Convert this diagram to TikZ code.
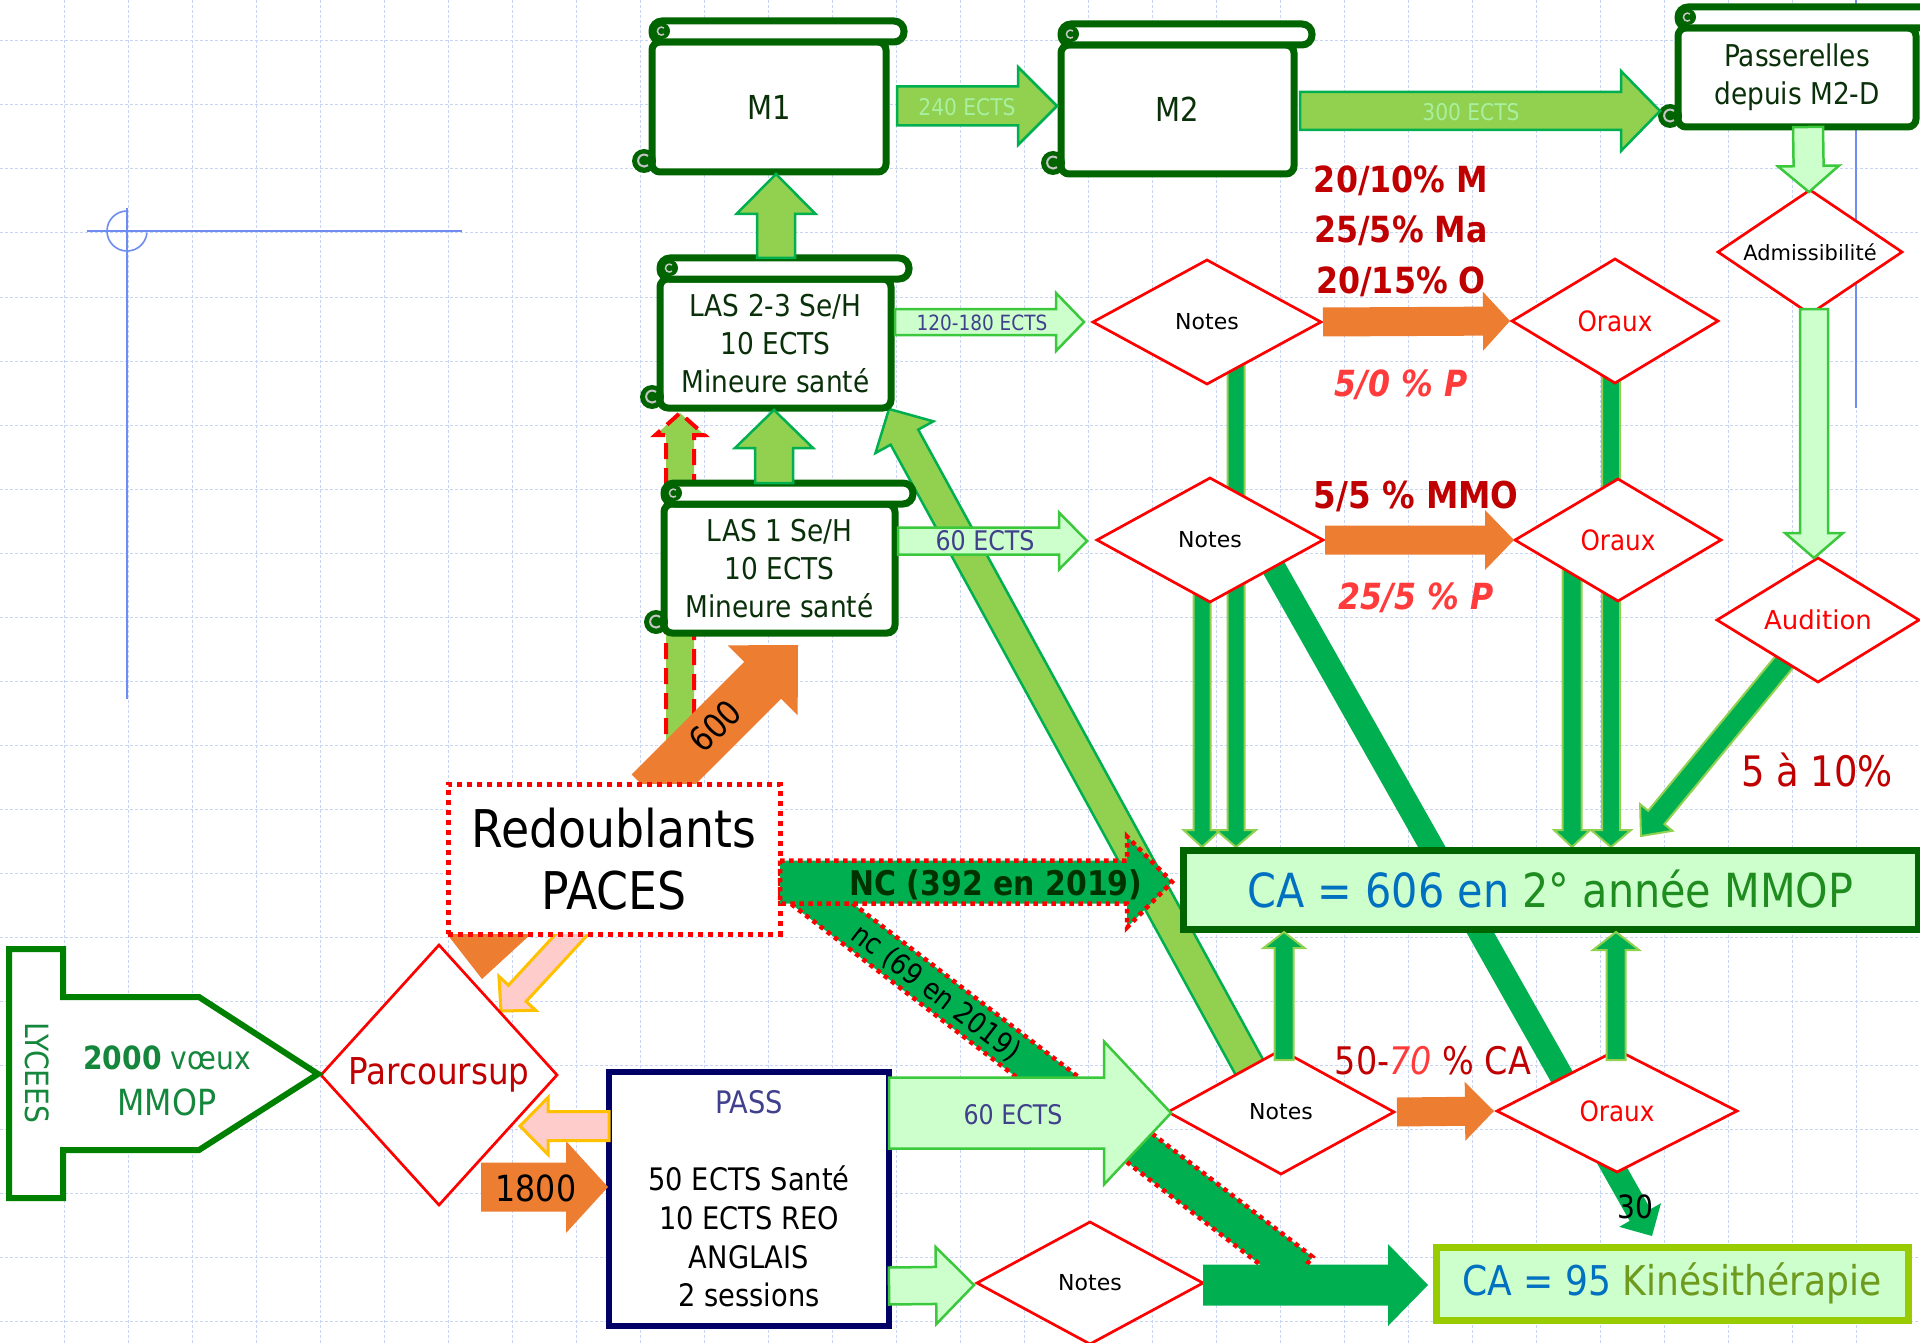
\documentclass[tikz,border=0pt]{standalone}
\usepackage{fontspec}
\setmainfont{DejaVu Sans}[FakeStretch=0.88,BoldFont={DejaVu Sans Bold},ItalicFont={DejaVu Sans Oblique},BoldItalicFont={DejaVu Sans Bold Oblique}]
\newfontfamily\wide{DejaVu Sans}
\usetikzlibrary{calc,shapes.geometric}
\pgfdeclarelayer{gridlayer}
\pgfdeclarelayer{bg}
\pgfdeclarelayer{fg}
\pgfsetlayers{gridlayer,bg,main,fg}
\definecolor{lgreen}{HTML}{92D050}
\definecolor{mgreen}{HTML}{00B050}
\definecolor{pgreen}{HTML}{CCFFCC}
\definecolor{bgreen}{HTML}{3CC83C}
\definecolor{dgreen}{HTML}{006400}
\definecolor{orng}{HTML}{ED7D31}
\definecolor{dred}{HTML}{C00000}
\definecolor{lred}{HTML}{FF3B3B}
\definecolor{navy}{HTML}{000066}
\definecolor{ectsc}{HTML}{40408C}
\definecolor{cablue}{HTML}{0070C0}
\definecolor{cagreen}{HTML}{1E8C1E}
\definecolor{kgreen}{HTML}{6E9A1E}
\definecolor{kborder}{HTML}{99CC00}
\definecolor{pinkf}{HTML}{FFCCCC}
\definecolor{gold}{HTML}{FFC000}
\definecolor{gridc}{HTML}{C8D4F4}
\definecolor{guide}{HTML}{6F8CF0}
\definecolor{lycee}{HTML}{008000}
\definecolor{lytext}{HTML}{14873C}
\definecolor{ncdark}{HTML}{003300}
\definecolor{ectslight}{HTML}{A8F0A0}
\definecolor{scrtext}{HTML}{0A300A}
\newcommand\fz[2]{\fontsize{#1}{#2}\selectfont}
% block arrow: style, from, to, shaft half width, head half width, head length
\newcommand\barrow[6]{%
  \path[#1] let \p1=(#2), \p2=(#3),
    \n1={atan2(\y2-\y1,\x2-\x1)},
    \n2={veclen(\x2-\x1,\y2-\y1)-#6}
  in ($(\p1)+(\n1+90:#4pt)$) -- ($(\p1)+(\n1:\n2)+(\n1+90:#4pt)$)
   -- ($(\p1)+(\n1:\n2)+(\n1+90:#5pt)$) -- (\p2)
   -- ($(\p1)+(\n1:\n2)+(\n1-90:#5pt)$) -- ($(\p1)+(\n1:\n2)+(\n1-90:#4pt)$)
   -- ($(\p1)+(\n1-90:#4pt)$) -- cycle;}
% plain band: style, from, to, half width
\newcommand\band[4]{%
  \path[#1] let \p1=(#2), \p2=(#3),
    \n1={atan2(\y2-\y1,\x2-\x1)}
  in ($(\p1)+(\n1+90:#4pt)$) -- ($(\p2)+(\n1+90:#4pt)$)
   -- ($(\p2)+(\n1-90:#4pt)$) -- ($(\p1)+(\n1-90:#4pt)$) -- cycle;}
% scroll: name, x1, y1, x2, y2, text
\newcommand\scrl[6]{%
  \node[scrollbody, minimum width={#4-#2}, minimum height={#5-#3}] (#1) at ({(#2+#4)/2},{(#3+#5)/2}) {#6};
  \draw[draw=dgreen, line width=7pt, fill=white, rounded corners=10pt] (#2,#3-21) rectangle (#4+18,#3);
  \fill[dgreen] (#2+10,#3-11) circle[radius=8pt];
  \draw[gray!45, line width=1.5pt] (#2+12,#3-14) arc[start angle=50,end angle=310,radius=4pt];
  \fill[dgreen] (#2-8,#5-11) circle[radius=12pt];
  \draw[gray!45, line width=2pt] (#2-4,#5-16) arc[start angle=50,end angle=310,radius=6pt];
}
\tikzset{
  every node/.style={outer sep=0pt},
  gridl/.style={draw=gridc, line width=1pt, dash pattern=on 3pt off 2pt},
  guideline/.style={draw=guide, line width=1.6pt},
  scrollbody/.style={draw=dgreen, line width=7pt, fill=white, rounded corners=8pt, inner sep=0pt, align=center, text=scrtext, font=\fz{30}{38}},
  dia/.style={diamond, draw=red, line width=2.7pt, fill=white, inner sep=0pt},
  lga/.style={fill=lgreen, draw=mgreen, line width=2.5pt, line join=miter},
  pga/.style={fill=pgreen, draw=bgreen, line width=2.5pt},
  mga/.style={fill=mgreen, draw=lgreen, line width=2pt},
  ora/.style={fill=orng},
  dotgreen/.style={fill=mgreen, draw=red, line width=4.5pt, dash pattern=on 4.5pt off 4.5pt},
  reddash/.style={fill=lgreen, draw=red, line width=4pt, dash pattern=on 16pt off 9pt},
  pinka/.style={fill=pinkf, draw=gold, line width=3pt},
  lbl/.style={inner sep=0pt, anchor=center},
}
\begin{document}
\begin{tikzpicture}[x=1pt,y=-1pt]
\useasboundingbox (0,0) rectangle (1920,1343);
\begin{pgfonlayer}{gridlayer}
\fill[white] (0,0) rectangle (1920,1343);
\foreach \gx in {64,128,...,1856} \draw[gridl] (\gx,0) -- (\gx,1343);
\foreach \gy in {41,105,...,1321} \draw[gridl] (0,\gy) -- (1920,\gy);
\draw[guideline] (87,231) -- (462,231);
\draw[guideline] (127,208) -- (127,699);
\draw[guideline] (127,211) arc[start angle=90,end angle=355,radius=20pt];
\draw[guideline] (1856,0) -- (1856,408);
\end{pgfonlayer}

% ---------- nodes ----------
\scrl{m1}{652}{42}{886}{172}{\fz{33}{38}M1}
\scrl{m2}{1061}{45}{1294}{174}{\fz{33}{38}M2}
\scrl{las23}{660}{279}{891}{408}{LAS 2-3 Se/H\\10 ECTS\\Mineure santé}
\scrl{las1}{664}{504}{895}{633}{LAS 1 Se/H\\10 ECTS\\Mineure santé}
\scrl{pas}{1678}{28}{1916}{127}{\fz{30}{39}Passerelles\\depuis M2-D}

\node[dia, minimum width=228pt, minimum height=124pt, shape aspect=1.8] (notes1) at (1207,322) {\wide\fz{22}{26}Notes};
\node[dia, minimum width=206pt, minimum height=124pt, shape aspect=1.7, text=red] (oraux1) at (1615,321) {\fz{28}{32}Oraux};
\node[dia, minimum width=226pt, minimum height=124pt, shape aspect=1.8] (notes2) at (1210,540) {\wide\fz{22}{26}Notes};
\node[dia, minimum width=206pt, minimum height=122pt, shape aspect=1.7, text=red] (oraux2) at (1618,540) {\fz{28}{32}Oraux};
\node[dia, minimum width=226pt, minimum height=124pt, shape aspect=1.8] (notes3) at (1281,1112) {\wide\fz{22}{26}Notes};
\node[dia, minimum width=240pt, minimum height=122pt, shape aspect=1.8, text=red] (oraux3) at (1617,1111) {\fz{28}{32}Oraux};
\node[dia, minimum width=226pt, minimum height=122pt, shape aspect=1.8] (notes4) at (1090,1283) {\wide\fz{22}{26}Notes};
\node[dia, minimum width=184pt, minimum height=124pt, shape aspect=1.5] (admiss) at (1810,252) {\wide\fz{21}{24}Admissibilité};
\node[dia, minimum width=202pt, minimum height=124pt, shape aspect=1.6, text=red] (audition) at (1818,620) {\wide\fz{26}{30}Audition};
\node[dia, minimum width=236pt, minimum height=260pt, shape aspect=0.9, text=dred] (pcs) at (439,1075) {\fz{37}{40}Parcoursup};

\node[draw=red, line width=5pt, dash pattern=on 5pt off 5pt, fill=white, minimum width=332pt, minimum height=150pt, inner sep=0pt, align=center, font=\fz{52}{62}] (redoub) at (614,859) {Redoublants\\PACES};
\node[draw=navy, line width=6pt, fill=white, minimum width=280pt, minimum height=254pt, inner sep=0pt, align=center, font=\fz{31}{38.6}] (pass) at (749,1199) {\textcolor{ectsc}{PASS}\\[38.6pt]50 ECTS Santé\\10 ECTS REO\\ANGLAIS\\2 sessions};
\node[draw=dgreen, line width=7pt, fill=pgreen, minimum width=735pt, minimum height=79pt, inner sep=0pt, font=\fz{47}{50}] (ca606) at (1550.5,889.5) {\textcolor{cablue}{CA = 606 en }\textcolor{cagreen}{2° année MMOP}};
\node[draw=kborder, line width=7pt, fill=pgreen, minimum width=472pt, minimum height=73pt, inner sep=0pt, font=\fz{41}{46}] (ca95) at (1672,1283.5) {\textcolor{cablue}{CA = 95 }\textcolor{kgreen}{Kinésithérapie}};

\draw[draw=lycee, line width=6pt, fill=white, line join=miter] (9,949) -- (63,949) -- (63,997) -- (199,997) -- (318,1074) coordinate (lyctip) -- (199,1150) -- (63,1150) -- (63,1198) -- (9,1198) -- cycle;
\node[lbl, rotate=-90, text=lytext, font=\fz{32}{36}] (lyct) at (37,1073) {LYCEES};
\node[lbl, text=lytext, font=\fz{32}{36}] (voeux) at (167,1058) {\textbf{2000} vœux};
\node[lbl, text=lytext, font=\fz{36}{40}] (mmop) at (167,1102) {MMOP};

% ---------- connectors behind the nodes ----------
\begin{pgfonlayer}{bg}
\barrow{lga}{$(notes3.center)+(-11.5,-8)$}{$(las23.south east)+(-2,1)$}{15.7}{33}{32}
\barrow{fill=mgreen}{$(notes2.center)+(48,0)$}{$(ca95.north west)+(216,-11)$}{12}{24}{24}
\barrow{mga}{$(notes2.south)+(-8,-12)$}{$(ca606.north west)+(19,-3)$}{8.5}{18.5}{17}
\barrow{mga}{$(notes1.south)+(29,-24)$}{$(ca606.north west)+(53,-3)$}{8.5}{20}{17}
\barrow{mga}{$(oraux2.south)+(-46,-36)$}{$(ca606.north west)+(389,-3)$}{9.5}{18}{17}
\barrow{mga}{$(oraux1.south)+(-4,-13)$}{$(ca606.north west)+(428,-3)$}{9}{20}{17}
\barrow{mga}{$(audition.center)+(-28,35)$}{$(ca606.north east)+(-277,-14)$}{10.5}{21}{24}
\barrow{reddash}{$(redoub.north)+(66,0)$}{$(las23.south)+(-95.5,5)$}{14}{24.5}{22}
\barrow{ora}{$(redoub.north)+(36,9)$}{$(las1.south east)+(-97,12)$}{26}{49.5}{50}
\band{dotgreen}{$(redoub.east)+(11,21)$}{$(notes4.east)+(98,-11)$}{19}
\fill[orng] ($(redoub.south west)+(-1,0)$) -- ($(redoub.south west)+(83,0)$) -- ($(redoub.south west)+(34,45)$) -- cycle;
\barrow{pinka}{$(redoub.south)+(-29,-14)$}{$(pcs.north)+(62,66)$}{12}{25}{24}
\end{pgfonlayer}

% ---------- connectors in front ----------
\begin{pgfonlayer}{fg}
\barrow{lga}{$(m1.east)+(11,-1)$}{$(m2.west)+(-4,-3.5)$}{19.5}{39}{39}
\barrow{lga}{$(m2.east)+(6,1.5)$}{$(pas.west)+(-18,33.5)$}{19}{40}{39}
\barrow{lga}{$(las23.north)+(0.5,-21)$}{$(m1.south)+(7,2)$}{19}{39.5}{40}
\barrow{lga}{$(las1.north)+(-5.5,-21)$}{$(las23.south)+(-1.5,2)$}{19}{39}{38}
\barrow{pga}{$(las23.east)+(4,-21.5)$}{$(notes1.west)+(-9,0)$}{13}{29}{28}
\barrow{pga}{$(las1.east)+(3,-27.5)$}{$(notes2.west)+(-10,1)$}{13.5}{28.5}{28}
\barrow{ora}{$(notes1.east)+(2,0)$}{$(oraux1.west)+(-2,0)$}{14.5}{29.5}{27}
\barrow{ora}{$(notes2.east)+(2,0)$}{$(oraux2.west)+(-1,0)$}{14.5}{30}{29}
\barrow{ora}{$(notes3.east)+(3,0)$}{$(oraux3.west)+(-3,0)$}{14.5}{29.5}{29}
\barrow{dotgreen}{$(redoub.east)+(0,23)$}{$(ca606.west)+(-11,-7.5)$}{21.5}{45.5}{45}
\barrow{pga}{$(pass.east)+(0,-86)$}{$(notes3.west)+(3,1)$}{35.5}{71.5}{67}
\barrow{pga}{$(pass.east)+(0,87)$}{$(notes4.west)+(-3,2)$}{18.5}{38.5}{38}
\barrow{fill=mgreen}{$(notes4.east)+(0,2)$}{$(ca95.west)+(-8,1.5)$}{20.5}{41}{40}
\barrow{mga}{$(notes3.north)+(3,10)$}{$(ca606.south west)+(101,3)$}{9.5}{20.5}{16}
\barrow{mga}{$(oraux3.north)+(-1,10)$}{$(ca606.south west)+(433,3)$}{9.5}{23}{18}
\barrow{ora}{$(pcs.east)+(-76,112)$}{$(pass.west)+(-1,-12)$}{24.5}{46}{42}
\barrow{pinka}{$(pass.west)+(0,-73)$}{$(pcs.east)+(-37,51)$}{14.5}{28.5}{28}
\barrow{pga}{$(pas.south)+(11,0)$}{$(admiss.north)+(-1,2)$}{15}{30.5}{26}
\barrow{pga}{$(admiss.south)+(4,-5)$}{$(audition.north)+(-4,0)$}{14}{29}{25}

% ---------- labels ----------
\node[lbl, text=ectslight, font=\fz{23}{26}] (e240) at (967,107) {240 ECTS};
\node[lbl, text=ectslight, font=\fz{23}{26}] (e300) at (1471,112) {300 ECTS};
\node[lbl, text=ectsc, font=\fz{21}{24}] (e120) at (982,323) {120-180 ECTS};
\node[lbl, text=ectsc, font=\fz{27}{30}] (e60a) at (985,541) {60 ECTS};
\node[lbl, text=ectsc, font=\fz{27}{30}] (e60b) at (1013,1115) {60 ECTS};
\node[lbl, text=dred, font=\bfseries\fz{36}{40}] (t1) at (1401,181) {20/10\% M};
\node[lbl, text=dred, font=\bfseries\fz{36}{40}] (t2) at (1401,231) {25/5\% Ma};
\node[lbl, text=dred, font=\bfseries\fz{36}{40}] (t3) at (1401,282) {20/15\% O};
\node[lbl, text=lred, font=\bfseries\itshape\fz{36}{40}] (t4) at (1401,385) {5/0 \% P};
\node[lbl, text=dred, font=\bfseries\fz{37}{40}] (t5) at (1416,496) {5/5 \% MMO};
\node[lbl, text=lred, font=\bfseries\itshape\fz{36}{40}] (t6) at (1416,598) {25/5 \% P};
\node[lbl, font=\fz{38}{42}] (t7) at (1433,1061) {\textcolor{dred}{50-}\textcolor{lred}{\itshape 70}\textcolor{dred}{~\% CA}};
\node[lbl, text=dred, font=\fz{42}{46}] (t8) at (1817,770) {5 à 10\%};
\node[lbl, font=\fz{32}{36}] (t30) at (1635,1207) {30};
\node[lbl, font=\fz{36}{40}] (t1800) at (536,1188) {1800};
\node[lbl, rotate=45, font=\fz{34}{38}] (t600) at (715,726) {600};
\node[lbl, rotate=-37.6, font=\fz{29}{32}] (tnc) at (936,993) {nc (69 en 2019)};
\node[lbl, text=ncdark, font=\bfseries\fz{34}{38}] (tNC) at (996,885) {NC (392 en 2019)};
\end{pgfonlayer}
\end{tikzpicture}
\end{document}
